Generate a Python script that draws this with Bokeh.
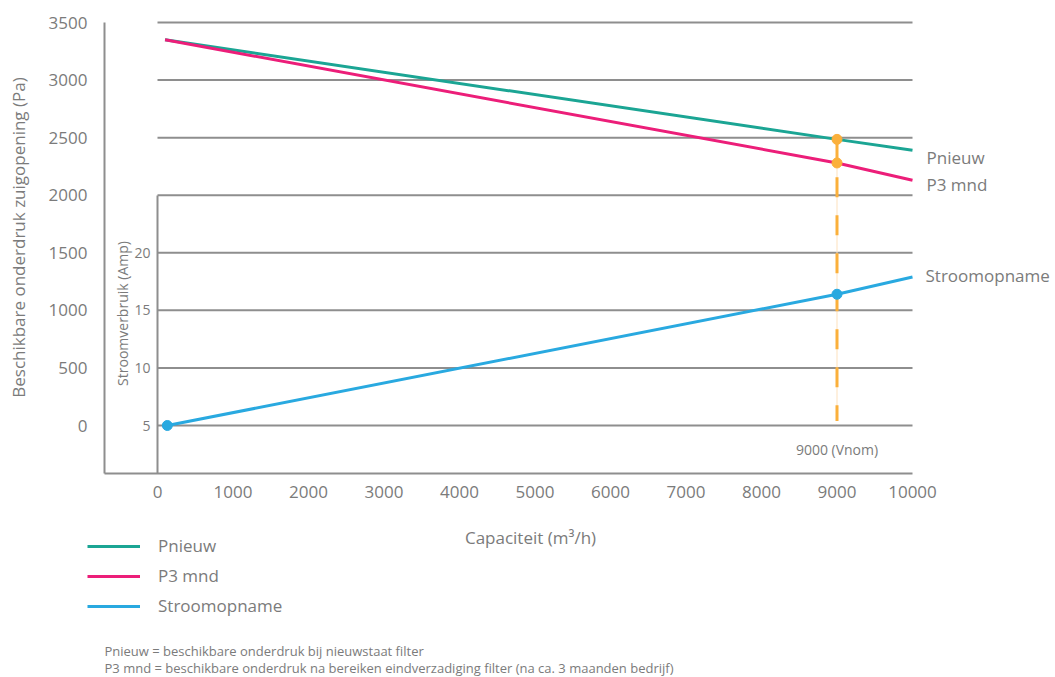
import math
from bokeh.plotting import figure
from bokeh.models import Range1d, LinearAxis, FixedTicker, Label, Legend, LegendItem
from bokeh.core.properties import value
from bokeh.embed import file_html
from bokeh.resources import INLINE

# ---------------- data ----------------
cap_pressure = [100, 9000, 10000]          # m3/h
p_nieuw = [3350, 2485, 2390]               # Pa
p_3mnd = [3350, 2280, 2130]                # Pa
cap_current = [130, 9000, 10000]           # m3/h
stroom = [5.0, 16.4, 17.9]                 # Amp
v_nom = 9000
v_nom_label = "9000 (Vnom)"
x_ticks = [0, 1000, 2000, 3000, 4000, 5000, 6000, 7000, 8000, 9000, 10000]
pa_ticks = [0, 500, 1000, 1500, 2000, 2500, 3000, 3500]
amp_ticks = [5, 10, 15, 20]
series_names = ["Pnieuw", "P3 mnd", "Stroomopname"]
x_title = "Capaciteit (m³/h)"
y_title = "Beschikbare onderdruk zuigopening (Pa)"
amp_title = "Stroomverbruik (Amp)"
notes = ["Pnieuw = beschikbare onderdruk bij nieuwstaat filter",
         "P3 mnd = beschikbare onderdruk na bereiken eindverzadiging filter (na ca. 3 maanden bedrijf)"]

# amp axis relation: 5 A at 0 Pa, 100 Pa per A
AMP_AT_ZERO = 5.0
PA_PER_AMP = 100.0

# ---------------- layout (pixels) ----------------
W, H = 1055, 677
X0_PX, X10K_PX = 157, 912
Y0_PX, Y3500_PX = 425, 22
xs = (X10K_PX - X0_PX) / 10000.0
ys = (Y0_PX - Y3500_PX) / 3500.0
def xd(px):
    return (px - X0_PX) / xs
def yd(py):
    return (Y0_PX - py) / ys

x_start, x_end = xd(0), xd(W)
y_start, y_end = yd(H), yd(0)
left_axis_x = xd(104)
bottom_axis_y = yd(473)

FONT = "Open Sans"
TXT = "#7b7b7b"
GRID = "#8e8e8e"
TEAL = "#1ba594"
PINK = "#ec1e79"
BLUE = "#29a9e0"
ORANGE = "#fbb03b"

p = figure(width=W, height=H, output_backend="svg", toolbar_location=None,
           x_range=Range1d(x_start, x_end), y_range=Range1d(y_start, y_end),
           x_axis_type=None, y_axis_type=None, min_border=0,
           min_border_left=0, min_border_right=0, min_border_top=0, min_border_bottom=0)
p.outline_line_color = None
p.background_fill_color = "white"
p.border_fill_color = "white"
p.extra_y_ranges = {"amp": Range1d(AMP_AT_ZERO + y_start / PA_PER_AMP,
                                   AMP_AT_ZERO + y_end / PA_PER_AMP)}

def style_axis(ax, size):
    ax.axis_line_color = GRID
    ax.axis_line_width = 2
    ax.major_tick_line_color = None
    ax.minor_tick_line_color = None
    ax.major_tick_in = 0
    ax.major_tick_out = 0
    ax.major_label_text_color = TXT
    ax.major_label_text_font = FONT
    ax.major_label_text_font_size = size

# main left axis (Pa)
yax = LinearAxis(ticker=FixedTicker(ticks=pa_ticks), fixed_location=left_axis_x,
                 bounds=(bottom_axis_y, pa_ticks[-1]))
style_axis(yax, "17px")
yax.major_label_standoff = 17
p.add_layout(yax, "left")

# bottom axis
xax = LinearAxis(ticker=FixedTicker(ticks=x_ticks), fixed_location=bottom_axis_y,
                 bounds=(left_axis_x, x_ticks[-1]))
style_axis(xax, "17px")
xax.major_label_standoff = 12
p.add_layout(xax, "below")

# inner amp axis
amp_bottom = AMP_AT_ZERO + bottom_axis_y / PA_PER_AMP
amp_top = AMP_AT_ZERO + 2000 / PA_PER_AMP
aax = LinearAxis(y_range_name="amp", ticker=FixedTicker(ticks=amp_ticks), fixed_location=0,
                 bounds=(amp_bottom, amp_top))
style_axis(aax, "14px")
aax.major_label_standoff = 7
p.add_layout(aax, "left")

# horizontal grid lines
p.segment(x0=[x_ticks[0]] * len(pa_ticks), x1=[x_ticks[-1]] * len(pa_ticks),
          y0=pa_ticks, y1=pa_ticks, line_color=GRID, line_width=2)

# series
r_teal = p.line(cap_pressure, p_nieuw, line_color=TEAL, line_width=3)
r_pink = p.line(cap_pressure, p_3mnd, line_color=PINK, line_width=3)
r_blue = p.line(cap_current, stroom, line_color=BLUE, line_width=3, y_range_name="amp")

i_nom = cap_pressure.index(v_nom)
j_nom = cap_current.index(v_nom)

# vertical Vnom line
p.segment(x0=[v_nom], x1=[v_nom], y0=[p_nieuw[i_nom]], y1=[40],
          line_color="#fde1bd", line_width=1)
p.segment(x0=[v_nom], x1=[v_nom], y0=[p_nieuw[i_nom]], y1=[40],
          line_color=ORANGE, line_width=3, line_dash="20 18")

# markers
p.scatter([v_nom, v_nom], [p_nieuw[i_nom], p_3mnd[i_nom]], size=10,
          fill_color=ORANGE, line_color=ORANGE)
p.scatter([cap_current[0], v_nom], [stroom[0], stroom[j_nom]], size=10,
          fill_color=BLUE, line_color=BLUE, y_range_name="amp")

# end labels
p.text(x=[cap_pressure[-1]], y=[p_nieuw[-1]], text=[series_names[0]], x_offset=14, y_offset=7,
       text_font=value(FONT), text_font_size="17px", text_color=TXT,
       text_baseline="middle", text_align="left")
p.text(x=[cap_pressure[-1]], y=[p_3mnd[-1]], text=[series_names[1]], x_offset=14, y_offset=4,
       text_font=value(FONT), text_font_size="17px", text_color=TXT,
       text_baseline="middle", text_align="left")
p.text(x=[cap_current[-1]], y=[stroom[-1]], text=[series_names[2]], x_offset=13, y_offset=-1,
       text_font=value(FONT), text_font_size="17px", text_color=TXT,
       text_baseline="middle", text_align="left", y_range_name="amp")

# Vnom label
p.text(x=[v_nom], y=[0], text=[v_nom_label], y_offset=24,
       text_font=value(FONT), text_font_size="14px", text_color=TXT,
       text_baseline="middle", text_align="center")

# titles
def slabel(txt, px, py, size, angle=0.0, align="center"):
    lab = Label(x=px, y=H - py, x_units="screen", y_units="screen",
                text=txt, angle=angle, text_font=FONT, text_font_size=size,
                text_color=TXT, text_align=align, text_baseline="middle")
    p.add_layout(lab)

slabel(y_title, 18, 237, "17px", angle=math.pi / 2)
slabel(amp_title, 122, 313, "14px", angle=math.pi / 2)
slabel(x_title, 530, 537, "17px")
slabel(notes[0], 104, 650, "13px", align="left")
slabel(notes[1], 104, 667, "13px", align="left")

# legend
legend = Legend(items=[LegendItem(label=series_names[0], renderers=[r_teal]),
                       LegendItem(label=series_names[1], renderers=[r_pink]),
                       LegendItem(label=series_names[2], renderers=[r_blue])],
                location=(87, 60))
legend.padding = 0
legend.margin = 0
legend.spacing = 7
legend.glyph_width = 53
legend.glyph_height = 20
legend.label_height = 20
legend.label_standoff = 18
legend.border_line_color = None
legend.background_fill_alpha = 0
legend.label_text_font = FONT
legend.label_text_font_size = "17px"
legend.label_text_color = TXT
p.add_layout(legend)

open("out.html", "w").write(file_html(p, INLINE))
